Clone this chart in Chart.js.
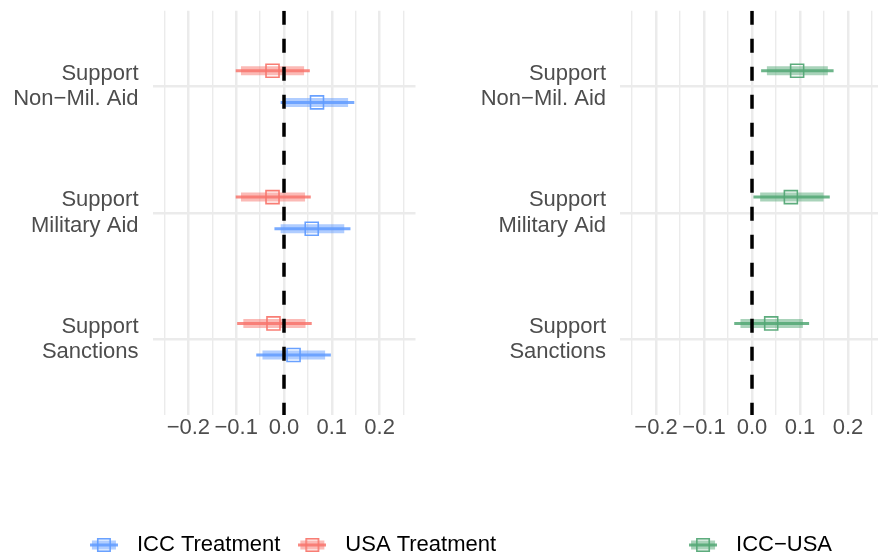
<!DOCTYPE html>
<html>
<head>
<meta charset="utf-8">
<script src="https://cdn.jsdelivr.net/npm/chart.js@4"></script>
<style>
  html, body { margin: 0; padding: 0; background: #ffffff; }
  #page { position: relative; width: 878px; height: 556px; overflow: hidden; background: #ffffff; }
  .panel { position: absolute; top: 0; height: 556px; }
  #leftPanel { left: 0; width: 578px; }
  #rightPanel { left: 460px; width: 593px; }
</style>
</head>
<body>
<div id="page">
  <div class="panel" id="leftPanel"><canvas id="leftChart"></canvas></div>
  <div class="panel" id="rightPanel"><canvas id="rightChart"></canvas></div>
</div>
<script>
// Outcomes (one row per outcome, top to bottom)
const categories = [
  ["Support", "Non\u2212Mil. Aid"],
  ["Support", "Military Aid"],
  ["Support", "Sanctions"]
];

// Labelled x ticks
const xTicks = [-0.2, -0.1, 0.0, 0.1, 0.2];

// ICC treatment effects: estimate, 95% and 90% intervals
const iccEst    = [0.069, 0.058, 0.020];
const iccLow95  = [-0.007, -0.020, -0.058];
const iccHigh95 = [0.147, 0.139, 0.098];
const iccLow90  = [0.002, -0.007, -0.045];
const iccHigh90 = [0.134, 0.126, 0.086];

// USA treatment effects
const usaEst    = [-0.024, -0.024, -0.022];
const usaLow95  = [-0.101, -0.101, -0.098];
const usaHigh95 = [0.054, 0.056, 0.058];
const usaLow90  = [-0.090, -0.090, -0.085];
const usaHigh90 = [0.042, 0.044, 0.045];

// Difference ICC minus USA
const diffEst    = [0.094, 0.081, 0.040];
const diffLow95  = [0.019, 0.003, -0.037];
const diffHigh95 = [0.170, 0.162, 0.119];
const diffLow90  = [0.031, 0.017, -0.024];
const diffHigh90 = [0.158, 0.149, 0.106];

// ---- drawing setup ----
const FONT = '"Liberation Sans", Arial, Helvetica, sans-serif';
Chart.defaults.font.family = FONT;
Chart.defaults.font.size = 22;

const DODGE = 0.125;           // vertical offset of each series around its row
const Y_MIN = 0.4, Y_MAX = categories.length + 0.6;
const X_MIN = -0.275, X_MAX = 0.275;

const BLUE = [97, 156, 255];
const RED = [248, 118, 109];
const GREEN = [84, 168, 118];

function rgba(c, a) { return `rgba(${c[0]},${c[1]},${c[2]},${a})`; }

// major ticks plus a minor line half way between them
const tickStep = xTicks[1] - xTicks[0];
const gridValues = [];
xTicks.forEach((v, i) => {
  gridValues.push(v - tickStep / 2);
  gridValues.push(v);
  if (i === xTicks.length - 1) gridValues.push(v + tickStep / 2);
});
function isMajor(v) { return xTicks.some(t => Math.abs(t - v) < 1e-9); }
function fmtTick(v) {
  const s = (Math.abs(v) < 1e-9 ? 0 : v).toFixed(1);
  return s.replace('-', '\u2212');
}

function rowPos(i, offset) { return i + 1 + offset; }

function segments(lo, hi, offset) {
  const out = [];
  lo.forEach((v, i) => {
    const y = rowPos(i, offset);
    out.push({ x: v, y: y }, { x: hi[i], y: y }, { x: null, y: null });
  });
  return out;
}
function markers(est, offset) {
  return est.map((v, i) => ({ x: v, y: rowPos(i, offset) }));
}

function seriesDatasets(label, color, est, lo95, hi95, lo90, hi90, offset) {
  return [
    { label: label, data: markers(est, offset), showLine: false,
      pointStyle: 'rect', pointRadius: 9.2, pointBorderWidth: 1.6,
      pointBorderColor: rgba(color, 0.95), pointBackgroundColor: 'rgba(0,0,0,0)', order: 1 },
    { label: label + ' 95%', data: segments(lo95, hi95, offset),
      borderColor: rgba(color, 0.85), borderWidth: 3, pointRadius: 0, order: 2 },
    { label: label + ' 90%', data: segments(lo90, hi90, offset),
      borderColor: rgba(color, 0.5), borderWidth: 9, pointRadius: 0, order: 3 }
  ];
}

function zeroLine() {
  return { label: 'zero', data: [{ x: 0, y: Y_MIN }, { x: 0, y: Y_MAX }],
    borderColor: '#000000', borderWidth: 3.5, borderDash: [14, 14],
    pointRadius: 0, order: 0 };
}

function legendIcon(color) {
  const c = document.createElement('canvas');
  c.width = 28; c.height = 14;
  const g = c.getContext('2d');
  g.fillStyle = rgba(color, 0.5);
  g.fillRect(2, 2.5, 24, 9);
  g.fillStyle = rgba(color, 0.85);
  g.fillRect(0, 5.5, 28, 3);
  g.strokeStyle = rgba(color, 0.95);
  g.lineWidth = 1.6;
  g.strokeRect(7.8, 0.8, 12.4, 12.4);
  return c;
}

function legendItem(text, color) {
  return { text: text, pointStyle: legendIcon(color), fillStyle: rgba(color, 0.85),
    strokeStyle: rgba(color, 0.85), lineWidth: 0, hidden: false, rotation: 0,
    fontColor: '#000000' };
}

function buildOptions(yWidth, rightPad, items) {
  return {
    responsive: true,
    maintainAspectRatio: false,
    animation: false,
    events: [],
    devicePixelRatio: 1,
    layout: { padding: 0 },
    scales: {
      x: {
        type: 'linear', min: X_MIN, max: X_MAX,
        afterBuildTicks: s => { s.ticks = gridValues.map(v => ({ value: v })); },
        afterFit: s => { s.height = 109; s.paddingLeft = 0; s.paddingRight = rightPad; },
        ticks: { autoSkip: false, maxRotation: 0, minRotation: 0, padding: 0,
          color: '#4D4D4D', font: { size: 22 },
          callback: v => isMajor(v) ? fmtTick(v) : '' },
        grid: { color: '#EBEBEB', drawTicks: false,
          lineWidth: ctx => (ctx.tick && isMajor(ctx.tick.value)) ? 2.5 : 1.4 },
        border: { display: false }
      },
      y: {
        type: 'linear', reverse: true, min: Y_MIN, max: Y_MAX,
        afterBuildTicks: s => { s.ticks = categories.map((c, i) => ({ value: i + 1 })); },
        afterFit: s => { s.width = yWidth; s.paddingTop = 10; s.paddingBottom = 0; },
        ticks: { autoSkip: false, padding: 14, color: '#4D4D4D',
          font: { size: 22, lineHeight: 1.15 },
          callback: v => categories[Math.round(v) - 1] },
        grid: { color: '#EBEBEB', lineWidth: 2.5, drawTicks: false },
        border: { display: false }
      }
    },
    plugins: {
      tooltip: { enabled: false },
      legend: {
        position: 'bottom', maxHeight: 32,
        labels: { usePointStyle: true, pointStyleWidth: 44, padding: 10,
          color: '#000000', font: { size: 22 },
          generateLabels: () => items }
      }
    }
  };
}

new Chart(document.getElementById('leftChart'), {
  type: 'line',
  data: {
    datasets: [zeroLine()]
      .concat(seriesDatasets('USA Treatment', RED, usaEst, usaLow95, usaHigh95, usaLow90, usaHigh90, -DODGE))
      .concat(seriesDatasets('ICC Treatment', BLUE, iccEst, iccLow95, iccHigh95, iccLow90, iccHigh90, DODGE))
  },
  options: buildOptions(152.5, 162.5, [legendItem('ICC Treatment', BLUE), legendItem('USA Treatment', RED)])
});

new Chart(document.getElementById('rightChart'), {
  type: 'line',
  data: {
    datasets: [zeroLine()]
      .concat(seriesDatasets('ICC\u2212USA', GREEN, diffEst, diffLow95, diffHigh95, diffLow90, diffHigh90, -DODGE))
  },
  options: buildOptions(160, 169, [legendItem('ICC\u2212USA', GREEN)])
});
</script>
</body>
</html>
